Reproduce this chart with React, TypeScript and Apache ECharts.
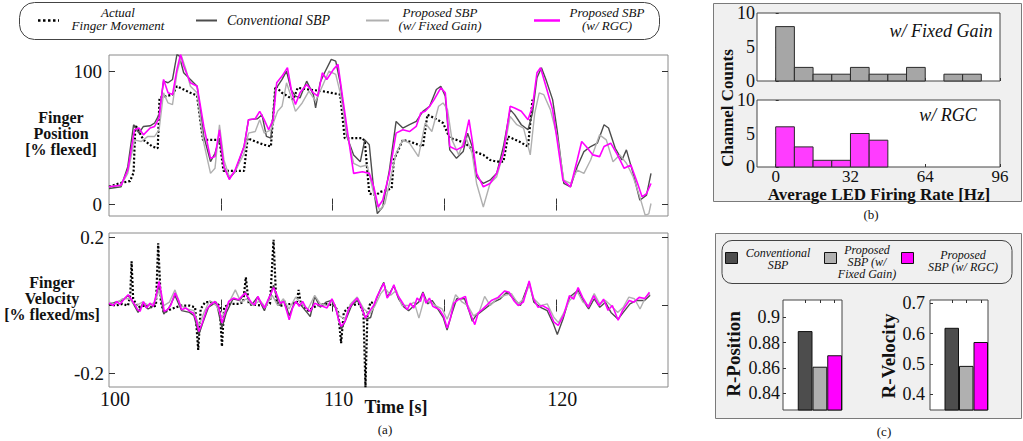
import React, { useEffect, useRef } from 'react';
import * as echarts from 'echarts';

const FONT = '"Liberation Serif", "Times New Roman", serif';

// ---------- (a) Finger position [% flexed] : [time s, value] ----------
const posActual: number[][] = [
  [100, 13.4], [100.44, 15.9], [100.94, 17.7], [101.1, 24], [101.18, 60], [101.54, 48.7], [101.94, 43.7],
  [102.18, 42.4], [102.26, 80.3], [102.54, 81.6], [102.84, 82.8], [103.04, 89.1], [103.34, 86.6], [103.64, 84.1],
  [103.94, 82], [104.2, 48.7], [104.94, 48.7], [105.12, 25.3], [106.04, 25.3], [106.2, 50], [106.54, 47.5],
  [106.94, 45], [107.24, 43.7], [107.44, 89.1], [107.74, 84.1], [108.24, 79], [108.44, 87.9], [108.94, 86.6],
  [109.54, 85.4], [109.94, 84.1], [110.34, 82.8], [110.54, 50], [111.34, 50], [111.44, 47.5], [111.64, 8.3],
  [111.94, 7.1], [112.14, 9.6], [112.44, 10.9], [112.64, 12.1], [112.74, 33.6], [112.94, 41.2], [113.14, 48.7],
  [113.44, 47.5], [113.84, 45], [114.04, 43.7], [114.24, 67.7], [114.54, 65.2], [114.94, 61.4], [115.24, 50],
  [115.54, 48.7], [115.94, 46.2], [116.34, 39.9], [116.74, 37.4], [117.04, 33.6], [117.34, 32.3], [117.64, 32.3],
  [117.84, 51.3], [118.34, 47.5], [118.74, 43.7], [118.94, 79]
];
const posConventional: number[][] = [
  [100, 12.1], [100.54, 13.4], [100.84, 28.5], [101.1, 60.1], [101.34, 53.8], [101.54, 58.8], [101.84, 59.3],
  [102.04, 61.4], [102.24, 67.7], [102.44, 92.9], [102.64, 91.7], [102.84, 94.2], [103.04, 113.1], [103.14, 111.9],
  [103.34, 99.2], [103.64, 94.2], [103.94, 89.1], [104.24, 51.3], [104.54, 32.3], [104.74, 38.6], [104.94, 50],
  [105.14, 28.5], [105.38, 19.7], [105.64, 24.7], [106.04, 43.7], [106.24, 63.9], [106.64, 64.6], [106.84, 67.7],
  [107.04, 51.3], [107.24, 50], [107.44, 86.6], [107.74, 94.2], [107.94, 100.5], [108.14, 86.6], [108.34, 81.6],
  [108.54, 80.3], [108.84, 92.9], [109.14, 82.8], [109.24, 72.7], [109.44, 91.7], [109.64, 99.2], [109.94, 109.3],
  [110.14, 108], [110.34, 91.7], [110.64, 51.3], [110.94, 37.4], [111.24, 32.3], [111.44, 48.7], [111.64, 45],
  [111.84, 10.9], [112.0, -6.8], [112.24, -1.8], [112.54, 26], [112.84, 62.6], [113.14, 57.6], [113.44, 60.1],
  [113.74, 62.6], [114.04, 70.2], [114.34, 74], [114.64, 86.6], [114.84, 89.1], [115.04, 81.6], [115.24, 41.2],
  [115.54, 34.8], [115.84, 39.9], [116.04, 53.8], [116.24, 43.7], [116.44, 21], [116.74, 15.9], [117.04, 18.4],
  [117.34, 23.5], [117.64, 43.7], [117.94, 71.5], [118.14, 67.7], [118.44, 60.1], [118.74, 56.3], [118.94, 68.9],
  [119.14, 95.5], [119.34, 103], [119.54, 94.2], [119.84, 79], [120.04, 56.3], [120.34, 15.9], [120.64, 13.4],
  [120.94, 28.5], [121.24, 39.9], [121.54, 43.7], [121.84, 46.2], [122.14, 60.1], [122.34, 57.6], [122.64, 42.4],
  [122.94, 33.6], [123.14, 41.2], [123.44, 23.5], [123.74, 3.3], [124.04, 7.1], [124.24, 23.5]
];
const posFixedGain: number[][] = [
  [100, 13.4], [100.54, 14.6], [100.84, 23.5], [101.14, 48.7], [101.44, 47.5], [101.74, 51.3], [102.04, 51.3],
  [102.24, 56.3], [102.44, 84.1], [102.64, 76.5], [102.84, 75.3], [103.04, 99.2], [103.24, 111.9], [103.44, 101.8],
  [103.64, 89.1], [103.94, 84.1], [104.24, 46.2], [104.54, 23.5], [104.74, 27.3], [104.94, 60.1], [105.14, 33.6],
  [105.38, 21], [105.64, 24.7], [106.04, 38.6], [106.24, 53.8], [106.54, 55], [106.74, 63.9], [106.94, 53.8],
  [107.24, 56.3], [107.54, 70.2], [107.74, 74], [107.94, 91.7], [108.14, 81.6], [108.34, 70.2], [108.64, 76.5],
  [108.94, 85.4], [109.24, 77.8], [109.54, 89.1], [109.84, 100.5], [110.14, 98], [110.34, 84.1], [110.64, 53.8],
  [110.94, 31.1], [111.24, 28.5], [111.54, 29.8], [111.84, 8.3], [112.1, -4.3], [112.34, 0.8], [112.64, 23.5],
  [112.84, 38.6], [113.14, 48.7], [113.44, 46.2], [113.84, 36.1], [114.14, 61.4], [114.44, 55], [114.74, 74],
  [114.94, 76.5], [115.14, 71.5], [115.34, 48.7], [115.64, 37.4], [115.94, 51.3], [116.24, 38.6], [116.44, 15.9],
  [116.74, -1.8], [117.04, 15.9], [117.34, 21], [117.64, 38.6], [117.94, 66.4], [118.24, 60.1], [118.54, 57.6],
  [118.84, 37.4], [119.04, 68.9], [119.24, 84.1], [119.44, 82.8], [119.74, 71.5], [120.04, 51.3], [120.34, 18.4],
  [120.64, 15.9], [120.94, 26], [121.24, 23.5], [121.54, 33.6], [121.94, 52.5], [122.24, 48.7], [122.54, 32.3],
  [122.84, 37.4], [123.14, 31.1], [123.44, 21], [123.74, 5.8], [123.98, -8], [124.14, -7], [124.24, 0.8]
];
const posRGC: number[][] = [
  [100.0, 13.4], [100.54, 14.6], [100.84, 26], [101.14, 56.3], [101.34, 57.6], [101.54, 52.5], [101.84, 57.6],
  [102.04, 58.8], [102.24, 65.2], [102.44, 94.2], [102.64, 84.1], [102.84, 82.8], [103.04, 101.8], [103.2, 113.1],
  [103.34, 104.3], [103.64, 91.7], [103.94, 89.1], [104.24, 58.8], [104.54, 34.8], [104.74, 36.1], [104.94, 56.3],
  [105.14, 28.5], [105.38, 18.9], [105.64, 26], [106.04, 43.7], [106.24, 63.9], [106.54, 64.6], [106.74, 70.2],
  [106.94, 63.9], [107.14, 56.3], [107.34, 63.9], [107.5, 91.7], [107.74, 96.7], [107.98, 103], [108.18, 84.1],
  [108.34, 75.3], [108.54, 84.1], [108.84, 90.4], [109.14, 84.1], [109.34, 81.6], [109.54, 99.2], [109.74, 94.2],
  [110.04, 101.8], [110.24, 105.6], [110.44, 81.6], [110.74, 46.2], [110.94, 23.5], [111.34, 24.7], [111.64, 23.5],
  [111.84, 13.4], [112.04, -1.8], [112.24, 3.3], [112.54, 23.5], [112.84, 53.8], [113.14, 56.3], [113.44, 55],
  [113.74, 58.8], [113.94, 68.9], [114.14, 70.2], [114.34, 74], [114.54, 79], [114.84, 87.9], [115.04, 84.1],
  [115.24, 43.7], [115.54, 41.2], [115.84, 43.7], [116.1, 63.9], [116.24, 48.7], [116.44, 23.5], [116.74, 13.4],
  [117.04, 15.9], [117.34, 23.5], [117.64, 38.6], [117.94, 74], [118.14, 72.7], [118.44, 70.2], [118.74, 63.9],
  [118.94, 74], [119.14, 99.2], [119.3, 103], [119.54, 89.1], [119.84, 71.5], [120.04, 48.7], [120.3, 18.4],
  [120.64, 13.4], [120.94, 33.6], [121.14, 47.5], [121.34, 43.7], [121.64, 37.4], [121.94, 36.1], [122.14, 43.7],
  [122.44, 46.2], [122.74, 37.4], [123.04, 27.3], [123.34, 29.8], [123.64, 15.9], [123.84, 5.8], [124.04, 8.3],
  [124.24, 15.9]
];

// ---------- (a) Finger velocity [% flexed/ms] : [time s, value] ----------
const velActual: number[][] = [
  [100, 0.005], [100.3, 0.0], [100.6, 0.005], [100.85, 0.0], [100.95, 0.03], [101.01, 0.13], [101.08, 0.02],
  [101.3, -0.005], [101.6, 0.0], [101.9, -0.005], [102.1, 0.0], [102.2, 0.183], [102.32, 0.01], [102.45, -0.02],
  [102.8, -0.01], [103.2, 0.0], [103.6, 0.0], [103.85, -0.005], [103.99, -0.13], [104.1, -0.01], [104.3, 0.01],
  [104.7, 0.01], [104.95, 0.0], [105.05, -0.12], [105.15, -0.005], [105.4, 0.005], [105.8, 0.005], [106.0, 0.01],
  [106.12, 0.083], [106.25, 0.005], [106.8, 0.0], [107.2, 0.005], [107.36, 0.193], [107.48, 0.01], [107.7, 0.0],
  [108.1, 0.005], [108.4, 0.01], [108.48, 0.046], [108.58, 0.005], [108.9, -0.015], [109.3, 0.0], [109.7, 0.005],
  [110.1, 0.0], [110.25, -0.02], [110.38, -0.11], [110.5, -0.02], [110.8, 0.0], [111.2, 0.005], [111.38, -0.02],
  [111.47, -0.24], [111.56, -0.02], [111.7, 0.01], [111.9, 0.005]
];
const velConventional: number[][] = [
  [100, 0.005], [100.3, 0.01], [100.6, 0.015], [100.86, 0.03], [101.05, 0.01], [101.3, -0.02], [101.5, 0.005],
  [101.75, -0.01], [102.0, 0.0], [102.24, 0.06], [102.45, -0.025], [102.7, -0.005], [102.95, 0.03], [103.25, -0.015],
  [103.6, -0.02], [103.8, -0.03], [104.02, -0.085], [104.2, -0.05], [104.45, -0.005], [104.8, 0.01], [105.05, -0.066],
  [105.25, -0.02], [105.55, 0.02], [105.85, 0.015], [106.1, 0.04], [106.35, 0.0], [106.65, 0.025], [106.95, -0.015],
  [107.2, 0.03], [107.36, 0.06], [107.6, 0.0], [107.85, 0.015], [108.06, -0.03], [108.3, 0.01], [108.6, 0.0],
  [108.85, -0.02], [109.0, -0.032], [109.2, 0.027], [109.45, -0.005], [109.7, 0.01], [109.95, 0.015], [110.15, -0.01],
  [110.39, -0.07], [110.6, -0.04], [110.85, 0.0], [111.1, 0.015], [111.3, -0.005], [111.5, -0.04], [111.7, -0.035],
  [111.9, 0.01], [112.15, 0.05], [112.29, 0.068], [112.45, 0.025], [112.74, 0.058], [112.95, 0.02], [113.2, -0.005],
  [113.4, -0.015], [113.65, 0.0], [113.85, 0.01], [114.04, 0.04], [114.25, 0.005], [114.45, 0.015], [114.7, -0.01],
  [114.95, -0.035], [115.12, -0.072], [115.3, -0.03], [115.55, 0.02], [115.9, 0.02], [116.1, -0.015], [116.25, -0.046],
  [116.4, -0.03], [116.6, -0.02], [116.9, -0.005], [117.2, 0.01], [117.5, 0.02], [117.8, 0.04], [118.1, 0.02],
  [118.4, 0.0], [118.79, 0.068], [119.0, 0.01], [119.3, -0.005], [119.6, -0.015], [119.85, -0.05], [120.05, -0.085],
  [120.3, -0.04], [120.6, 0.025], [120.98, 0.045], [121.2, 0.015], [121.45, -0.01], [121.7, 0.02], [121.95, -0.005],
  [122.2, 0.01], [122.45, -0.02], [122.77, -0.04], [123.0, -0.02], [123.3, 0.005], [123.6, 0.015], [123.95, 0.015],
  [124.2, 0.03]
];
const velFixedGain: number[][] = [
  [100, 0.01], [100.3, 0.005], [100.6, 0.02], [100.9, 0.02], [101.2, 0.0], [101.5, 0.01], [101.8, 0.0], [102.05, 0.01],
  [102.24, 0.045], [102.45, 0.0], [102.7, 0.01], [102.95, 0.046], [103.2, 0.0], [103.5, -0.01], [103.8, -0.015],
  [104.02, -0.06], [104.25, -0.02], [104.5, 0.015], [104.8, 0.0], [105.05, -0.035], [105.3, 0.0], [105.65, 0.046],
  [105.9, 0.01], [106.15, 0.02], [106.45, 0.0], [106.75, 0.015], [107.0, -0.005], [107.3, 0.03], [107.55, 0.0],
  [107.8, 0.02], [108.05, -0.01], [108.35, 0.025], [108.6, 0.005], [108.9, -0.01], [109.2, 0.03], [109.45, 0.005],
  [109.75, 0.0], [110.0, 0.015], [110.3, -0.03], [110.55, -0.04], [110.8, 0.005], [111.1, 0.025], [111.4, -0.01],
  [111.65, -0.025], [111.9, 0.0], [112.15, 0.035], [112.35, 0.05], [112.6, 0.03], [112.85, 0.045], [113.1, 0.0],
  [113.4, 0.0], [113.65, 0.01], [113.86, -0.037], [114.1, 0.02], [114.35, 0.01], [114.6, 0.0], [114.9, -0.01],
  [115.12, -0.04], [115.3, -0.01], [115.5, 0.032], [115.8, 0.01], [116.05, 0.0], [116.3, -0.03], [116.55, -0.02],
  [116.8, 0.027], [117.05, 0.0], [117.35, 0.02], [117.7, 0.03], [118.0, 0.035], [118.3, 0.005], [118.55, 0.02],
  [118.79, 0.06], [119.0, 0.02], [119.3, 0.0], [119.6, 0.005], [119.9, -0.035], [120.1, -0.05], [120.35, -0.02],
  [120.6, 0.015], [120.95, 0.04], [121.2, 0.01], [121.45, 0.0], [121.7, 0.035], [121.95, 0.005], [122.2, 0.015],
  [122.45, 0.0], [122.75, -0.02], [123.0, -0.005], [123.25, 0.025], [123.5, 0.02], [123.75, -0.01], [124.0, 0.025],
  [124.2, 0.035]
];
const velRGC: number[][] = [
  [100.0, 0.007], [100.19, 0.0], [100.34, 0.012], [100.49, 0.004], [100.72, 0.022], [100.86, 0.032], [101.01, 0.017],
  [101.16, 0.002], [101.28, -0.012], [101.39, -0.017], [101.54, 0.012], [101.68, -0.007], [101.83, 0.007],
  [101.98, -0.002], [102.13, 0.037], [102.24, 0.071], [102.35, 0.032], [102.47, -0.017], [102.62, -0.012],
  [102.77, 0.002], [102.95, 0.037], [103.1, 0.017], [103.25, -0.012], [103.43, -0.007], [103.62, -0.017],
  [103.77, -0.022], [103.92, -0.046], [104.02, -0.076], [104.17, -0.051], [104.37, -0.012], [104.52, 0.002],
  [104.74, 0.012], [104.9, -0.002], [105.05, -0.051], [105.2, -0.022], [105.35, 0.012], [105.57, 0.022],
  [105.8, 0.017], [105.94, 0.027], [106.09, 0.037], [106.24, 0.022], [106.39, 0.007], [106.51, 0.002],
  [106.66, 0.027], [106.81, 0.007], [106.96, -0.007], [107.11, 0.017], [107.26, 0.037], [107.36, 0.053],
  [107.51, 0.032], [107.66, 0.007], [107.81, 0.012], [107.91, -0.007], [108.06, -0.042], [108.21, -0.007],
  [108.36, 0.012], [108.51, -0.002], [108.66, 0.012], [108.81, -0.007], [109.0, -0.017], [109.2, 0.007],
  [109.37, 0.002], [109.55, -0.002], [109.75, -0.007], [109.97, 0.02], [110.12, -0.002], [110.27, -0.042],
  [110.39, -0.061], [110.56, -0.046], [110.71, -0.012], [110.89, 0.007], [111.1, 0.022], [111.25, 0.002],
  [111.47, -0.037], [111.7, -0.012], [111.85, 0.002], [111.99, 0.027], [112.14, 0.046], [112.29, 0.066],
  [112.44, 0.022], [112.59, 0.037], [112.74, 0.061], [112.89, 0.032], [113.04, 0.017], [113.19, 0.002],
  [113.34, -0.012], [113.48, 0.007], [113.63, -0.007], [113.78, 0.022], [113.93, 0.012], [114.04, 0.037],
  [114.18, 0.007], [114.33, 0.022], [114.48, -0.002], [114.63, -0.007], [114.78, -0.012], [114.97, -0.032],
  [115.12, -0.066], [115.27, -0.037], [115.42, 0.007], [115.61, 0.017], [115.79, 0.022], [115.94, 0.027],
  [116.06, -0.007], [116.21, -0.032], [116.36, -0.056], [116.51, -0.022], [116.69, -0.012], [116.91, 0.002],
  [117.1, 0.015], [117.4, 0.024], [117.7, 0.043], [117.9, 0.039], [118.1, 0.015], [118.3, 0.0], [118.53, 0.01],
  [118.79, 0.072], [118.99, 0.019], [119.19, -0.005], [119.39, 0.0], [119.65, -0.01], [119.89, -0.048],
  [120.09, -0.058], [120.33, -0.029], [120.59, 0.029], [120.78, 0.019], [120.98, 0.053], [121.18, 0.024],
  [121.44, -0.005], [121.68, 0.029], [121.92, 0.0], [122.12, 0.019], [122.32, -0.014], [122.51, 0.0],
  [122.77, -0.043], [122.97, -0.014], [123.27, 0.015], [123.47, 0.01], [123.71, 0.024], [123.97, 0.021],
  [124.17, 0.039]
];

// ---------- (b) histograms of average LED firing rate ----------
const histBinEdges = [0, 8, 16, 24, 32, 40, 48, 56, 64, 72, 80, 88, 96];
const histFixedGain = [8, 2, 1, 1, 2, 1, 1, 2, 0, 1, 1, 0];
const histRGC = [6, 3, 1, 1, 5, 4, 0, 0, 0, 0, 0, 0];
const histTicks = [0, 32, 64, 96];

// ---------- (c) correlation bars ----------
const methods = ['Conventional SBP', 'Proposed SBP (w/ Fixed Gain)', 'Proposed SBP (w/ RGC)'];
const rPosition = [0.889, 0.861, 0.870];
const rVelocity = [0.619, 0.493, 0.572];

const C_ACT = '#000000';
const C_CONV = '#4d4d4d';
const C_FIX = '#b0b0b0';
const C_RGC = '#ff00ff';
const C_HIST_FIX = '#a6a6a6';
const C_HIST_RGC = '#ff3cff';
const barColors = [C_CONV, C_FIX, C_RGC];

const txt = (text: string, x: number, y: number, font: string, extra: any = {}) => ({
  type: 'text',
  x,
  y,
  z: 20,
  rotation: extra.rotation || 0,
  style: {
    text,
    font,
    fill: extra.fill || '#111',
    align: extra.align || 'center',
    verticalAlign: 'middle',
    textAlign: extra.align || 'center',
    textVerticalAlign: 'middle',
    lineHeight: extra.lineHeight || 14
  }
});

const histData = (counts: number[]) =>
  counts
    .map((c, i) => [histBinEdges[i], histBinEdges[i + 1], c])
    .filter((d) => d[2] > 0);

export default function App() {
  const ref = useRef<HTMLDivElement>(null);

  useEffect(() => {
    if (!ref.current) return;
    const chart = echarts.init(ref.current, undefined, { renderer: 'svg' });

    const tickStyle = { color: '#333', width: 1 };
    const labelBase = { fontFamily: FONT, color: '#111' };
    const lineAxisX = (grid: number, pos: 'bottom' | 'top', labels: boolean) => ({
      type: 'value', gridIndex: grid, position: pos, min: 100, max: 125,
      axisLine: { show: false },
      splitLine: { show: false },
      axisTick: { show: true, inside: true, length: 6, lineStyle: tickStyle, customValues: [105, 110, 115, 120] },
      axisLabel: labels
        ? { show: true, ...labelBase, fontSize: 20, margin: 2, padding: [0, 0, 0, 12], customValues: [100, 110, 120] }
        : { show: false }
    });

    const renderHist = (fill: string) => (params: any, api: any) => {
      const p0 = api.coord([api.value(0), api.value(2)]);
      const p1 = api.coord([api.value(1), 0]);
      return {
        type: 'rect',
        shape: { x: p0[0], y: p0[1], width: p1[0] - p0[0], height: p1[1] - p0[1] },
        style: { fill, stroke: '#2a2a2a', lineWidth: 1 }
      };
    };

    const lineSeries = (data: number[][], color: string, width: number, xi: number, yi: number, dotted = false) => ({
      type: 'line', xAxisIndex: xi, yAxisIndex: yi, data, showSymbol: false, symbol: 'none',
      lineStyle: { color, width, type: dotted ? [2, 2] : 'solid' },
      silent: true
    });

    const option: any = {
      animation: false,
      backgroundColor: '#ffffff',
      textStyle: { fontFamily: FONT },
      grid: [
        { left: 109, top: 55, width: 559, height: 161, show: true, backgroundColor: '#fff', borderColor: '#8a8a8a', borderWidth: 1 },
        { left: 109, top: 233, width: 559, height: 154, show: true, backgroundColor: '#fff', borderColor: '#8a8a8a', borderWidth: 1 },
        { left: 757, top: 13, width: 243, height: 68, show: true, backgroundColor: '#fff', borderColor: '#444', borderWidth: 1 },
        { left: 757, top: 100, width: 243, height: 67, show: true, backgroundColor: '#fff', borderColor: '#444', borderWidth: 1 },
        { left: 783, top: 300, width: 59, height: 110, show: true, backgroundColor: '#fff', borderColor: '#444', borderWidth: 1 },
        { left: 930, top: 300, width: 58, height: 110, show: true, backgroundColor: '#fff', borderColor: '#444', borderWidth: 1 }
      ],
      xAxis: [
        lineAxisX(0, 'bottom', false),
        lineAxisX(0, 'top', false),
        lineAxisX(1, 'bottom', true),
        lineAxisX(1, 'top', false),
        {
          type: 'value', gridIndex: 2, min: -8, max: 96,
          axisLine: { show: false }, splitLine: { show: false },
          axisTick: { show: true, inside: true, length: 3, lineStyle: tickStyle, customValues: histTicks },
          axisLabel: { show: false }
        },
        {
          type: 'value', gridIndex: 3, min: -8, max: 96,
          axisLine: { show: false }, splitLine: { show: false },
          axisTick: { show: true, inside: true, length: 3, lineStyle: tickStyle, customValues: histTicks },
          axisLabel: { show: true, ...labelBase, fontSize: 17, margin: 1, customValues: histTicks }
        },
        {
          type: 'category', gridIndex: 4, data: ['', ...methods],
          axisLine: { show: false }, axisTick: { show: false }, axisLabel: { show: false }
        },
        {
          type: 'category', gridIndex: 4, position: 'top', data: ['', ...methods],
          axisLine: { show: false },
          axisTick: { show: true, inside: true, length: 3, alignWithLabel: true, interval: (i: number) => i > 0, lineStyle: tickStyle },
          axisLabel: { show: false }
        },
        {
          type: 'category', gridIndex: 5, data: ['', ...methods],
          axisLine: { show: false }, axisTick: { show: false }, axisLabel: { show: false }
        },
        {
          type: 'category', gridIndex: 5, position: 'top', data: ['', ...methods],
          axisLine: { show: false },
          axisTick: { show: true, inside: true, length: 3, alignWithLabel: true, interval: (i: number) => i > 0, lineStyle: tickStyle },
          axisLabel: { show: false }
        }
      ],
      yAxis: [
        {
          type: 'value', gridIndex: 0, min: -8.6, max: 112.6,
          axisLine: { show: false }, splitLine: { show: false },
          axisTick: { show: true, inside: true, length: 6, lineStyle: tickStyle, customValues: [0, 100] },
          axisLabel: { show: true, ...labelBase, fontSize: 19, margin: 7, customValues: [0, 100] }
        },
        {
          type: 'value', gridIndex: 0, position: 'right', min: -8.6, max: 112.6,
          axisLine: { show: false }, splitLine: { show: false },
          axisTick: { show: true, inside: true, length: 6, lineStyle: tickStyle, customValues: [0, 100] },
          axisLabel: { show: false }
        },
        {
          type: 'value', gridIndex: 1, min: -0.239, max: 0.213,
          axisLine: { show: false }, splitLine: { show: false },
          axisTick: { show: true, inside: true, length: 6, lineStyle: tickStyle, customValues: [-0.2, 0, 0.2] },
          axisLabel: { show: true, ...labelBase, fontSize: 19, margin: 5, customValues: [-0.2, 0.2] }
        },
        {
          type: 'value', gridIndex: 1, position: 'right', min: -0.239, max: 0.213,
          axisLine: { show: false }, splitLine: { show: false },
          axisTick: { show: true, inside: true, length: 6, lineStyle: tickStyle, customValues: [-0.2, 0, 0.2] },
          axisLabel: { show: false }
        },
        {
          type: 'value', gridIndex: 2, min: 0, max: 10, interval: 5,
          axisLine: { show: false }, splitLine: { show: false },
          axisTick: { show: true, inside: true, length: 3, lineStyle: tickStyle },
          axisLabel: { show: true, ...labelBase, fontSize: 18, margin: 2 }
        },
        {
          type: 'value', gridIndex: 3, min: 0, max: 10, interval: 5,
          axisLine: { show: false }, splitLine: { show: false },
          axisTick: { show: true, inside: true, length: 3, lineStyle: tickStyle },
          axisLabel: { show: true, ...labelBase, fontSize: 18, margin: 2 }
        },
        {
          type: 'value', gridIndex: 4, min: 0.827, max: 0.9134,
          axisLine: { show: false }, splitLine: { show: false },
          axisTick: { show: true, inside: true, length: 3, lineStyle: tickStyle, customValues: [0.84, 0.86, 0.88, 0.9] },
          axisLabel: { show: true, ...labelBase, fontSize: 18, margin: 3, customValues: [0.84, 0.86, 0.88, 0.9] }
        },
        {
          type: 'value', gridIndex: 5, min: 0.347, max: 0.711,
          axisLine: { show: false }, splitLine: { show: false },
          axisTick: { show: true, inside: true, length: 3, lineStyle: tickStyle, customValues: [0.4, 0.5, 0.6, 0.7] },
          axisLabel: { show: true, ...labelBase, fontSize: 18, margin: 5, customValues: [0.4, 0.5, 0.6, 0.7] }
        }
      ],
      series: [
        lineSeries(posActual, C_ACT, 2.2, 0, 0, true),
        lineSeries(posConventional, C_CONV, 1.4, 0, 0),
        lineSeries(posFixedGain, C_FIX, 1.4, 0, 0),
        lineSeries(posRGC, C_RGC, 1.6, 0, 0),
        lineSeries(velActual, C_ACT, 2.2, 2, 2, true),
        lineSeries(velConventional, C_CONV, 1.4, 2, 2),
        lineSeries(velFixedGain, C_FIX, 1.4, 2, 2),
        lineSeries(velRGC, C_RGC, 1.6, 2, 2),
        {
          type: 'custom', xAxisIndex: 4, yAxisIndex: 4, data: histData(histFixedGain),
          encode: { x: [0, 1], y: 2 }, renderItem: renderHist(C_HIST_FIX), silent: true
        },
        {
          type: 'custom', xAxisIndex: 5, yAxisIndex: 5, data: histData(histRGC),
          encode: { x: [0, 1], y: 2 }, renderItem: renderHist(C_HIST_RGC), silent: true
        },
        {
          type: 'bar', xAxisIndex: 6, yAxisIndex: 6, barWidth: '100%', silent: true,
          data: ['-', ...rPosition.map((v, i) => ({ value: v, itemStyle: { color: barColors[i], borderColor: '#111', borderWidth: 1 } }))]
        },
        {
          type: 'bar', xAxisIndex: 8, yAxisIndex: 7, barWidth: '100%', silent: true,
          data: ['-', ...rVelocity.map((v, i) => ({ value: v, itemStyle: { color: barColors[i], borderColor: '#111', borderWidth: 1 } }))]
        }
      ],
      graphic: [
        // panel backgrounds
        { type: 'rect', z: -10, shape: { x: 713.5, y: 3.5, width: 308, height: 198 }, style: { fill: '#f0f0f0', stroke: '#7a7a7a', lineWidth: 1 } },
        { type: 'rect', z: -10, shape: { x: 715.5, y: 233.5, width: 306, height: 185 }, style: { fill: '#f0f0f0', stroke: '#7a7a7a', lineWidth: 1 } },
        // legend (a)
        { type: 'rect', z: 5, shape: { x: 19.5, y: 2.5, width: 640, height: 37, r: 15 }, style: { fill: '#fff', stroke: '#444', lineWidth: 1 } },
        { type: 'line', z: 6, shape: { x1: 38, y1: 20.5, x2: 59, y2: 20.5 }, style: { stroke: C_ACT, lineWidth: 2.5, lineDash: [2.5, 2.5] } },
        txt('Actual\nFinger Movement', 118, 19, `italic 13px ${FONT}`, { lineHeight: 13 }),
        { type: 'line', z: 6, shape: { x1: 196, y1: 20.5, x2: 217, y2: 20.5 }, style: { stroke: C_CONV, lineWidth: 2 } },
        txt('Conventional SBP', 227, 20, `italic 14px ${FONT}`, { align: 'left' }),
        { type: 'line', z: 6, shape: { x1: 366, y1: 20.5, x2: 389, y2: 20.5 }, style: { stroke: C_FIX, lineWidth: 2 } },
        txt('Proposed SBP\n(w/ Fixed Gain)', 440, 19, `italic 13px ${FONT}`, { lineHeight: 13 }),
        { type: 'line', z: 6, shape: { x1: 534, y1: 20.5, x2: 560, y2: 20.5 }, style: { stroke: C_RGC, lineWidth: 2.5 } },
        txt('Proposed SBP\n(w/ RGC)', 607, 19, `italic 13px ${FONT}`, { lineHeight: 13 }),
        // (a) axis titles
        txt('Finger\nPosition\n[% flexed]', 61, 133, `bold 16px ${FONT}`, { lineHeight: 16 }),
        txt('Finger\nVelocity\n[% flexed/ms]', 52, 298, `bold 16px ${FONT}`, { lineHeight: 16 }),
        txt('Time [s]', 396, 407, `bold 18px ${FONT}`),
        txt('(a)', 385, 429, `13px ${FONT}`),
        // (b)
        txt('Channel Counts', 727, 108, `bold 17px ${FONT}`, { rotation: Math.PI / 2 }),
        txt('Average LED Firing Rate [Hz]', 879, 194.5, `bold 17px ${FONT}`),
        txt('w/ Fixed Gain', 941, 31, `italic 18px ${FONT}`),
        txt('w/ RGC', 948, 115, `italic 18px ${FONT}`),
        txt('(b)', 871, 214, `13px ${FONT}`),
        // (c) legend
        { type: 'rect', z: 5, shape: { x: 722, y: 240.5, width: 290, height: 43, r: 10 }, style: { fill: 'rgba(0,0,0,0)', stroke: '#444', lineWidth: 1 } },
        { type: 'rect', z: 6, shape: { x: 725.5, y: 252.5, width: 12, height: 11 }, style: { fill: C_CONV, stroke: '#111', lineWidth: 1 } },
        txt('Conventional\nSBP', 778, 259, `italic 12px ${FONT}`, { lineHeight: 12.3 }),
        { type: 'rect', z: 6, shape: { x: 824.5, y: 252.5, width: 12, height: 11 }, style: { fill: C_FIX, stroke: '#111', lineWidth: 1 } },
        txt('Proposed\nSBP (w/\nFixed Gain)', 867, 262, `italic 12px ${FONT}`, { lineHeight: 12 }),
        { type: 'rect', z: 6, shape: { x: 901.5, y: 252.5, width: 12, height: 11 }, style: { fill: C_RGC, stroke: '#111', lineWidth: 1 } },
        txt('Proposed\nSBP (w/ RGC)', 963, 261, `italic 12px ${FONT}`, { lineHeight: 12 }),
        // (c) axis titles
        txt('R-Position', 733, 354, `bold 19px ${FONT}`, { rotation: Math.PI / 2 }),
        txt('R-Velocity', 888, 356, `bold 19px ${FONT}`, { rotation: Math.PI / 2 }),
        txt('(c)', 884, 431, `13px ${FONT}`)
      ]
    };

    chart.setOption(option);
    return () => chart.dispose();
  }, []);

  return (
    <div
      ref={ref}
      style={{ position: 'absolute', left: 0, top: 0, width: 1023, height: 441, background: '#fff' }}
    />
  );
}
